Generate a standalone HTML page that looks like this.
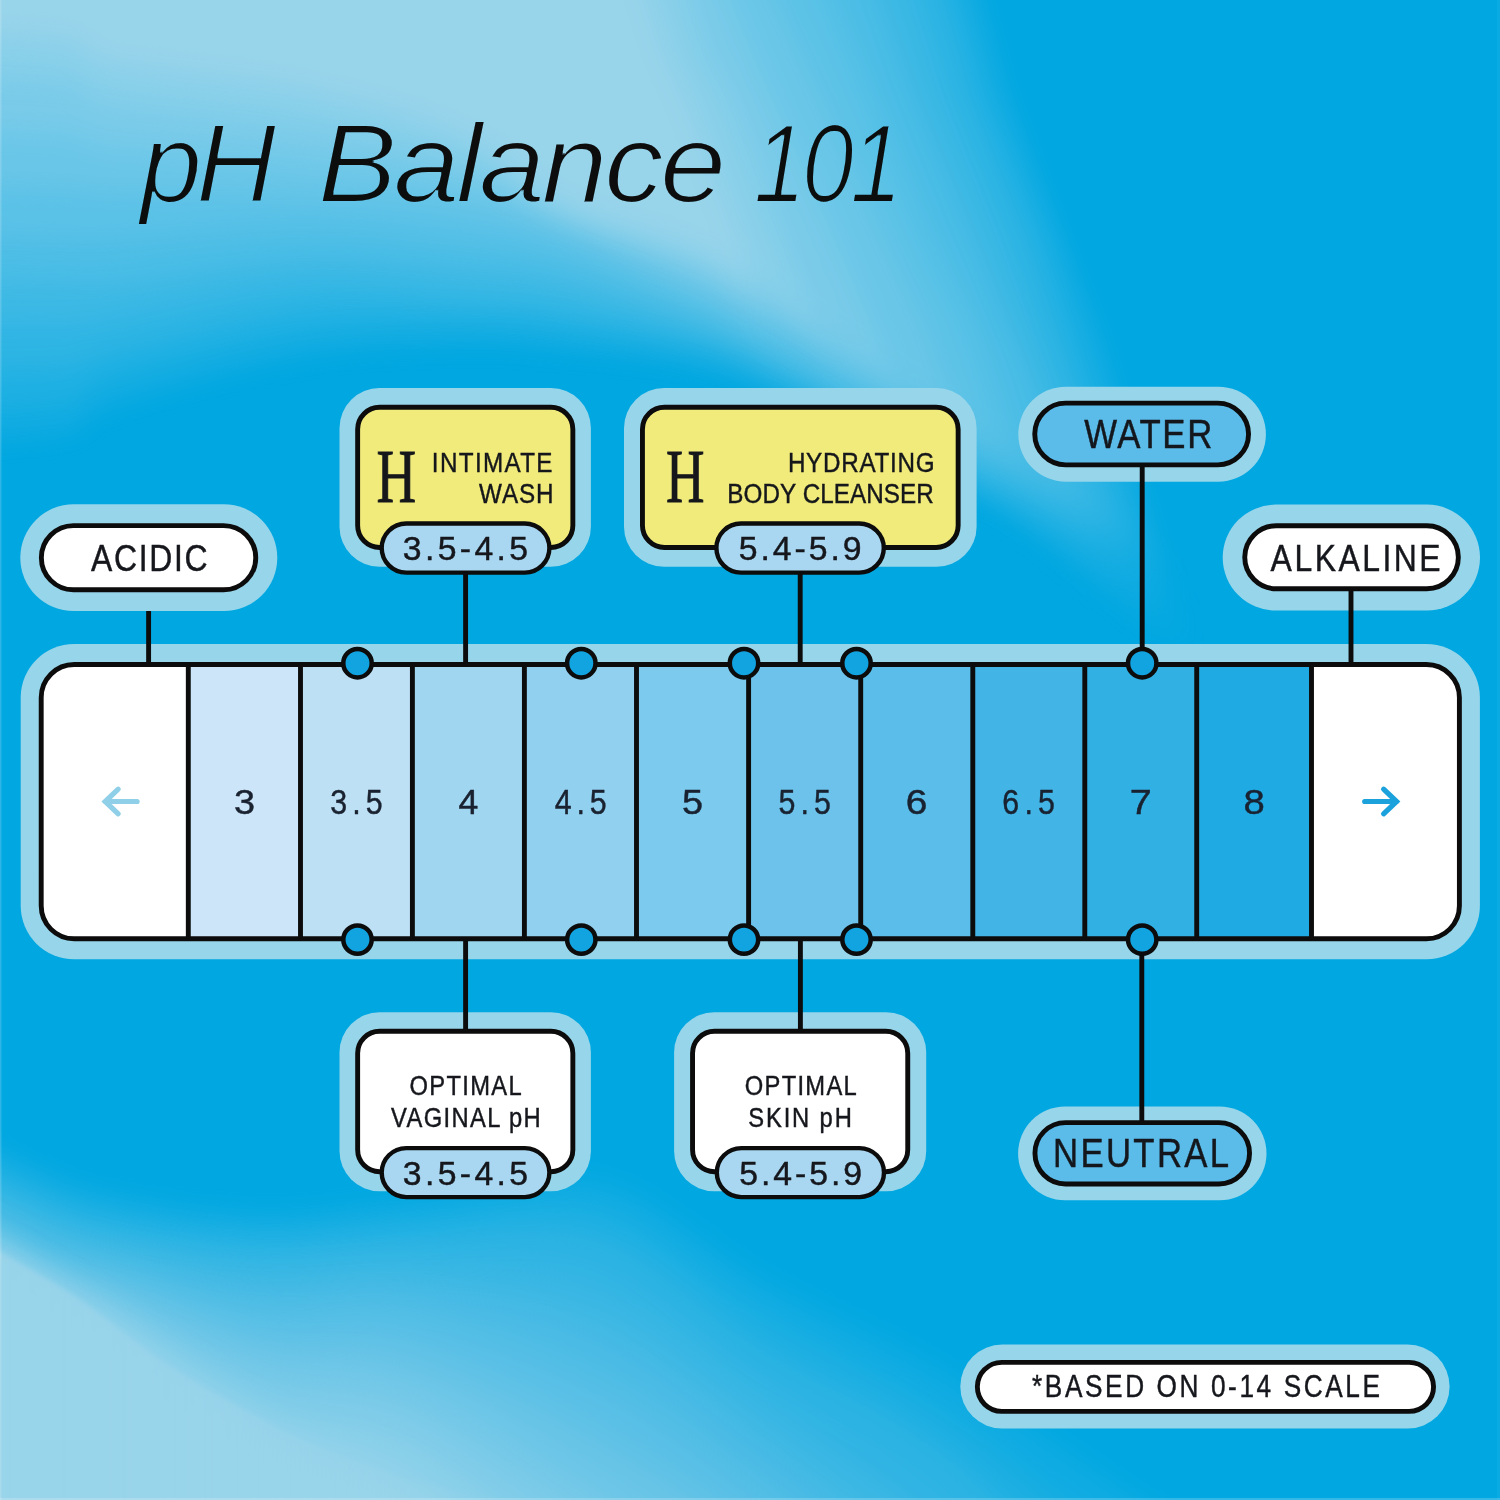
<!DOCTYPE html>
<html lang="en"><head><meta charset="utf-8"><title>pH Balance 101</title>
<style>html,body{margin:0;padding:0;background:#00a7e1}body{width:1500px;height:1500px;overflow:hidden}svg{display:block}</style>
</head><body>
<svg width="1500" height="1500" viewBox="0 0 1500 1500">
<defs><filter id="thin" x="-5%" y="-20%" width="110%" height="140%"><feMorphology operator="erode" radius="1.4"/><feGaussianBlur stdDeviation="0.45"/></filter></defs>
<rect width="1500" height="1500" fill="#00a7e1"/>
<defs>
<filter id="fT" filterUnits="userSpaceOnUse" x="-300" y="-300" width="2100" height="2100"><feGaussianBlur stdDeviation="13"/></filter><filter id="fL" filterUnits="userSpaceOnUse" x="-300" y="-300" width="2100" height="2100"><feGaussianBlur stdDeviation="16"/></filter><filter id="fB2" filterUnits="userSpaceOnUse" x="-300" y="-300" width="2100" height="2100"><feGaussianBlur stdDeviation="2"/></filter>
<linearGradient id="gE2" gradientUnits="userSpaceOnUse" x1="0" y1="0" x2="520" y2="0"><stop offset="0" stop-color="#98d4ea" stop-opacity="0.95"/><stop offset="0.45" stop-color="#98d4ea" stop-opacity="0.8"/><stop offset="1" stop-color="#98d4ea" stop-opacity="0"/></linearGradient>
<clipPath id="cv"><rect width="1500" height="1500"/></clipPath>
<mask id="mF2" maskUnits="userSpaceOnUse" x="0" y="0" width="1500" height="700"><rect width="1500" height="700" fill="#000"/>
<path d="M-300 -150 L944.0 -150 C952.5 -118.3 983.6 -1.7 994.9 40 C1006.2 81.7 1000.3 66.7 1011.9 100 C1023.5 133.3 1050.2 203.3 1064.2 240 C1078.2 276.7 1088.0 298.0 1096.1 320 C1104.2 342.0 1105.4 345.3 1113.0 372 C1120.6 398.7 1128.3 433.7 1141.5 480 C1154.7 526.3 1183.7 621.7 1192.1 650 L-300 650 Z" fill="#fff" opacity="0.100" filter="url(#fT)"/>
<path d="M-300 -150 L922.5 -150 C931.5 -118.3 964.9 -1.7 976.8 40 C988.7 81.7 981.6 66.7 993.8 100 C1006.0 133.3 1036.2 203.3 1050.0 240 C1063.8 276.7 1069.5 298.0 1076.7 320 C1083.9 342.0 1085.2 345.3 1093.0 372 C1100.8 398.7 1109.7 433.7 1123.8 480 C1137.9 526.3 1168.5 621.7 1177.4 650 L-300 650 Z" fill="#fff" opacity="0.111" filter="url(#fT)"/>
<path d="M-300 -150 L897.5 -150 C907.3 -118.3 943.6 -1.7 956.2 40 C968.8 81.7 961.2 66.7 973.2 100 C985.2 133.3 1014.5 203.3 1028.0 240 C1041.5 276.7 1047.2 298.0 1054.5 320 C1061.8 342.0 1063.2 345.3 1071.6 372 C1080.0 398.7 1089.9 433.7 1104.8 480 C1119.7 526.3 1151.6 621.7 1160.9 650 L-300 650 Z" fill="#fff" opacity="0.125" filter="url(#fT)"/>
<path d="M-300 -150 L863.5 -150 C873.8 -118.3 911.6 -1.7 925.0 40 C938.4 81.7 931.2 66.7 943.7 100 C956.2 133.3 986.0 203.3 1000.3 240 C1014.6 276.7 1021.4 298.0 1029.5 320 C1037.6 342.0 1039.8 345.3 1048.9 372 C1058.0 398.7 1068.7 433.7 1084.3 480 C1099.9 526.3 1133.0 621.7 1142.7 650 L-300 650 Z" fill="#fff" opacity="0.143" filter="url(#fT)"/>
<path d="M-300 -150 L820.7 -150 C831.8 -118.3 872.7 -1.7 887.4 40 C902.1 81.7 895.8 66.7 909.1 100 C922.4 133.3 951.8 203.3 967.0 240 C982.2 276.7 991.0 298.0 1000.2 320 C1009.4 342.0 1012.3 345.3 1022.0 372 C1031.7 398.7 1041.7 433.7 1058.3 480 C1074.9 526.3 1111.1 621.7 1121.7 650 L-300 650 Z" fill="#fff" opacity="0.167" filter="url(#fT)"/>
<path d="M-300 -150 L766.3 -150 C779.5 -118.3 828.4 -1.7 845.6 40 C862.8 81.7 856.0 66.7 869.7 100 C883.4 133.3 911.4 203.3 927.6 240 C943.8 276.7 957.2 298.0 966.8 320 C976.4 342.0 976.5 345.3 985.3 372 C994.1 398.7 1001.3 433.7 1019.4 480 C1037.5 526.3 1081.5 621.7 1093.9 650 L-300 650 Z" fill="#fff" opacity="0.200" filter="url(#fT)"/>
<path d="M-300 -150 L708.0 -150 C722.4 -118.3 775.5 -1.7 794.5 40 C813.5 81.7 807.1 66.7 822.1 100 C837.1 133.3 867.8 203.3 884.5 240 C901.2 276.7 912.6 298.0 922.1 320 C931.6 342.0 931.2 345.3 941.3 372 C951.4 398.7 961.9 433.7 982.5 480 C1003.1 526.3 1051.2 621.7 1065.0 650 L-300 650 Z" fill="#fff" opacity="0.250" filter="url(#fT)"/>
<path d="M-300 -150 L667.7 -150 C680.5 -118.3 727.6 -1.7 744.7 40 C761.9 81.7 755.9 66.7 770.6 100 C785.3 133.3 816.9 203.3 833.0 240 C849.1 276.7 857.8 298.0 867.3 320 C876.8 342.0 876.6 345.3 890.0 372 C903.4 398.7 923.3 433.7 947.5 480 C971.7 526.3 1020.4 621.7 1035.0 650 L-300 650 Z" fill="#fff" opacity="0.333" filter="url(#fT)"/>
<path d="M-300 -150 L647.0 -150 C655.8 -118.3 686.3 -1.7 700.0 40 C713.7 81.7 715.7 66.7 729.4 100 C743.1 133.3 767.9 203.3 782.2 240 C796.5 276.7 804.4 298.0 815.0 320 C825.6 342.0 829.8 345.3 846.0 372 C862.2 398.7 886.0 433.7 912.5 480 C939.0 526.3 989.6 621.7 1005.0 650 L-300 650 Z" fill="#fff" opacity="0.500" filter="url(#fT)"/>
<path d="M-300 -150 L604.3 -150 C613.9 -118.3 648.1 -1.7 662.0 40 C675.9 81.7 674.9 66.7 687.8 100 C700.7 133.3 726.7 203.3 739.6 240 C752.5 276.7 754.6 298.0 765.0 320 C775.4 342.0 783.2 345.3 802.0 372 C820.8 398.7 848.7 433.7 877.5 480 C906.3 526.3 958.8 621.7 975.0 650 L-300 650 Z" fill="#fff" opacity="1.000" filter="url(#fT)"/>
</mask>
</defs>
<g clip-path="url(#cv)">
<g mask="url(#mF2)">
<path d="M-150 -300 L-150 450.6 C-115.0 448.4 16.7 444.4 60 437.6 C103.3 430.8 70.0 422.9 110 410.0 C150.0 397.1 241.3 370.5 300 360.0 C358.7 349.5 417.8 348.2 462 347.0 C506.2 345.8 525.3 348.7 565 352.6 C604.7 356.5 664.2 362.6 700 370.5 C735.8 378.4 753.3 387.8 780 400.0 C806.7 412.2 833.3 428.8 860 443.5 C886.7 458.2 913.3 474.0 940 488.0 C966.7 502.0 976.7 496.8 1020 527.5 C1063.3 558.2 1136.7 627.9 1200 672.0 C1263.3 716.1 1366.7 772.0 1400 792.0 L1400 -300 Z" fill="#98d4ea" opacity="0.100" filter="url(#fT)"/>
<path d="M-150 -300 L-150 411.7 C-115.0 410.6 16.7 409.9 60 404.8 C103.3 399.7 70.0 392.3 110 380.9 C150.0 369.5 241.3 345.1 300 336.5 C358.7 327.9 417.8 329.1 462 329.0 C506.2 328.9 525.3 331.2 565 335.9 C604.7 340.6 664.2 348.4 700 357.3 C735.8 366.2 753.3 376.3 780 389.0 C806.7 401.7 833.3 418.7 860 433.7 C886.7 448.7 913.3 464.7 940 479.0 C966.7 493.3 976.7 490.2 1020 519.7 C1063.3 549.2 1136.7 613.3 1200 656.0 C1263.3 698.7 1366.7 756.0 1400 776.0 L1400 -300 Z" fill="#98d4ea" opacity="0.111" filter="url(#fT)"/>
<path d="M-150 -300 L-150 369.1 C-115.0 368.8 16.7 369.8 60 367.0 C103.3 364.2 70.0 361.8 110 352.6 C150.0 343.5 241.3 319.0 300 312.1 C358.7 305.2 417.8 309.7 462 311.0 C506.2 312.3 525.3 314.2 565 320.0 C604.7 325.8 664.2 336.2 700 346.0 C735.8 355.8 753.3 365.8 780 379.0 C806.7 392.2 833.3 409.7 860 425.0 C886.7 440.3 913.3 456.3 940 471.0 C966.7 485.7 976.7 484.8 1020 513.0 C1063.3 541.2 1136.7 598.8 1200 640.0 C1263.3 681.2 1366.7 740.0 1400 760.0 L1400 -300 Z" fill="#98d4ea" opacity="0.125" filter="url(#fT)"/>
<path d="M-150 -300 L-150 323.2 C-115.0 323.4 16.7 325.3 60 324.5 C103.3 323.7 70.0 324.7 110 318.2 C150.0 311.7 241.3 289.8 300 285.6 C358.7 281.4 417.8 290.3 462 293.0 C506.2 295.7 525.3 295.1 565 302.0 C604.7 308.9 664.2 323.0 700 334.3 C735.8 345.6 753.3 355.9 780 369.6 C806.7 383.3 833.3 401.0 860 416.7 C886.7 432.4 913.3 448.9 940 463.8 C966.7 478.7 976.7 479.6 1020 506.3 C1063.3 533.0 1136.7 584.4 1200 624.0 C1263.3 663.6 1366.7 724.0 1400 744.0 L1400 -300 Z" fill="#98d4ea" opacity="0.143" filter="url(#fT)"/>
<path d="M-150 -300 L-150 277.3 C-115.0 277.9 16.7 280.2 60 280.8 C103.3 281.4 70.0 284.6 110 280.8 C150.0 277.0 241.3 260.3 300 258.0 C358.7 255.7 417.8 263.3 462 267.0 C506.2 270.7 525.3 270.8 565 280.0 C604.7 289.2 664.2 308.9 700 322.2 C735.8 335.5 753.3 345.4 780 359.7 C806.7 374.0 833.3 391.8 860 407.9 C886.7 424.0 913.3 440.9 940 456.1 C966.7 471.3 976.7 474.0 1020 499.3 C1063.3 524.6 1136.7 569.9 1200 608.0 C1263.3 646.1 1366.7 708.0 1400 728.0 L1400 -300 Z" fill="#98d4ea" opacity="0.167" filter="url(#fT)"/>
<path d="M-150 -300 L-150 235.0 C-115.0 235.8 16.7 239.2 60 240.0 C103.3 240.8 70.0 242.0 110 240.0 C150.0 238.0 241.3 228.0 300 228.0 C358.7 228.0 417.8 235.2 462 240.0 C506.2 244.8 525.3 245.6 565 257.0 C604.7 268.4 664.2 293.0 700 308.2 C735.8 323.4 753.3 333.3 780 348.2 C806.7 363.1 833.3 381.0 860 397.4 C886.7 413.8 913.3 431.0 940 446.6 C966.7 462.2 976.7 465.9 1020 490.8 C1063.3 515.7 1136.7 558.5 1200 596.0 C1263.3 633.5 1366.7 696.0 1400 716.0 L1400 -300 Z" fill="#98d4ea" opacity="0.200" filter="url(#fT)"/>
<path d="M-150 -300 L-150 180.0 C-115.0 181.2 16.7 185.0 60 187.0 C103.3 189.0 70.0 190.4 110 191.8 C150.0 193.2 241.3 192.4 300 195.3 C358.7 198.2 417.8 202.2 462 209.2 C506.2 216.1 525.3 222.9 565 237.0 C604.7 251.1 664.2 277.2 700 293.8 C735.8 310.4 753.3 320.9 780 336.4 C806.7 351.9 833.3 369.9 860 386.7 C886.7 403.4 913.3 421.0 940 436.9 C966.7 452.8 976.7 456.9 1020 482.1 C1063.3 507.3 1136.7 550.4 1200 588.0 C1263.3 625.6 1366.7 688.0 1400 708.0 L1400 -300 Z" fill="#98d4ea" opacity="0.250" filter="url(#fT)"/>
<path d="M-150 -300 L-150 125.0 C-115.0 126.3 16.7 129.4 60 133.0 C103.3 136.6 70.0 142.0 110 146.5 C150.0 151.0 241.3 153.8 300 160.0 C358.7 166.2 417.8 173.1 462 183.5 C506.2 193.9 525.3 206.4 565 222.2 C604.7 238.0 664.2 261.3 700 278.1 C735.8 294.9 753.3 307.0 780 323.2 C806.7 339.4 833.3 357.9 860 375.1 C886.7 392.3 913.3 410.1 940 426.4 C966.7 442.6 976.7 447.0 1020 472.6 C1063.3 498.2 1136.7 542.1 1200 580.0 C1263.3 617.9 1366.7 680.0 1400 700.0 L1400 -300 Z" fill="#98d4ea" opacity="0.333" filter="url(#fT)"/>
<path d="M-150 -300 L-150 70.0 C-115.0 71.7 16.7 74.7 60 80.0 C103.3 85.3 70.0 94.6 110 102.1 C150.0 109.5 241.3 115.0 300 124.7 C358.7 134.3 417.8 145.3 462 160.0 C506.2 174.7 525.3 195.6 565 212.8 C604.7 230.0 664.2 246.7 700 263.0 C735.8 279.3 753.3 293.9 780 310.7 C806.7 327.5 833.3 346.4 860 364.0 C886.7 381.6 913.3 399.7 940 416.3 C966.7 432.9 976.7 437.8 1020 463.7 C1063.3 489.6 1136.7 534.0 1200 572.0 C1263.3 610.0 1366.7 672.0 1400 692.0 L1400 -300 Z" fill="#98d4ea" opacity="0.500" filter="url(#fT)"/>
<path d="M-150 -300 L-150 29.0 C-115.0 30.7 16.7 33.4 60 39.0 C103.3 44.6 70.0 54.2 110 62.5 C150.0 70.8 241.3 76.4 300 88.5 C358.7 100.6 417.8 116.0 462 135.0 C506.2 154.0 525.3 183.4 565 202.5 C604.7 221.6 664.2 233.5 700 249.7 C735.8 265.9 753.3 282.2 780 299.6 C806.7 317.0 833.3 336.0 860 354.0 C886.7 372.0 913.3 390.4 940 407.4 C966.7 424.4 976.7 429.8 1020 455.9 C1063.3 482.0 1136.7 526.0 1200 564.0 C1263.3 602.0 1366.7 664.0 1400 684.0 L1400 -300 Z" fill="#98d4ea" opacity="1.000" filter="url(#fT)"/>
</g>
<path d="M-150 2400 L-150 1075.0 C-120.8 1089.7 -18.3 1143.2 25 1163.0 C68.3 1182.8 70.8 1185.6 110 1194.0 C149.2 1202.4 210.0 1212.4 260 1213.4 C310.0 1214.4 353.3 1205.6 410 1200.0 C466.7 1194.4 541.7 1166.8 600 1179.6 C658.3 1192.4 701.7 1244.4 760 1276.7 C818.3 1309.0 885.0 1335.2 950 1373.3 C1015.0 1411.3 1083.3 1464.7 1150 1505.0 C1216.7 1545.3 1316.7 1596.7 1350 1615.0 L1350 2400 Z" fill="#98d4ea" opacity="0.100" filter="url(#fL)"/>
<path d="M-150 2400 L-150 1087.5 C-120.8 1102.2 -18.3 1155.9 25 1176.0 C68.3 1196.1 70.8 1199.3 110 1208.0 C149.2 1216.7 210.0 1226.5 260 1228.2 C310.0 1229.9 353.3 1221.5 410 1218.3 C466.7 1215.1 541.7 1193.7 600 1209.2 C658.3 1224.7 701.7 1276.4 760 1311.5 C818.3 1346.6 885.0 1375.2 950 1420.0 C1015.0 1464.8 1083.3 1535.7 1150 1580.0 C1216.7 1624.3 1316.7 1668.4 1350 1686.1 L1350 2400 Z" fill="#98d4ea" opacity="0.111" filter="url(#fL)"/>
<path d="M-150 2400 L-150 1102.5 C-120.8 1117.4 -18.3 1172.1 25 1192.0 C68.3 1211.9 70.8 1213.5 110 1222.0 C149.2 1230.5 210.0 1240.8 260 1243.0 C310.0 1245.2 353.3 1235.5 410 1235.0 C466.7 1234.5 541.7 1220.8 600 1240.0 C658.3 1259.2 701.7 1313.3 760 1350.0 C818.3 1386.7 885.0 1408.3 950 1460.0 C1015.0 1511.7 1083.3 1610.3 1150 1660.0 C1216.7 1709.7 1316.7 1741.9 1350 1758.3 L1350 2400 Z" fill="#98d4ea" opacity="0.125" filter="url(#fL)"/>
<path d="M-150 2400 L-150 1117.5 C-120.8 1132.6 -18.3 1187.8 25 1208.0 C68.3 1228.2 70.8 1228.8 110 1238.4 C149.2 1248.0 210.0 1262.0 260 1265.8 C310.0 1269.6 353.3 1257.3 410 1261.0 C466.7 1264.7 541.7 1265.4 600 1288.0 C658.3 1310.6 701.7 1355.5 760 1396.7 C818.3 1437.9 885.0 1478.5 950 1535.0 C1015.0 1591.5 1083.3 1686.4 1150 1735.7 C1216.7 1785.0 1316.7 1814.8 1350 1830.6 L1350 2400 Z" fill="#98d4ea" opacity="0.143" filter="url(#fL)"/>
<path d="M-150 2400 L-150 1132.5 C-120.8 1147.8 -18.3 1203.6 25 1224.0 C68.3 1244.4 70.8 1244.0 110 1254.8 C149.2 1265.6 210.0 1283.2 260 1288.6 C310.0 1294.0 353.3 1279.1 410 1287.0 C466.7 1294.9 541.7 1309.6 600 1336.0 C658.3 1362.4 701.7 1400.5 760 1445.3 C818.3 1490.1 885.0 1544.7 950 1605.0 C1015.0 1665.3 1083.3 1757.5 1150 1807.1 C1216.7 1856.7 1316.7 1886.8 1350 1902.8 L1350 2400 Z" fill="#98d4ea" opacity="0.167" filter="url(#fL)"/>
<path d="M-150 2400 L-150 1147.5 C-120.8 1162.9 -18.3 1219.6 25 1240.0 C68.3 1260.4 70.8 1257.6 110 1269.8 C149.2 1282.0 210.0 1305.0 260 1313.0 C310.0 1321.0 353.3 1305.6 410 1318.0 C466.7 1330.4 541.7 1357.6 600 1387.3 C658.3 1417.0 701.7 1447.9 760 1496.0 C818.3 1544.1 885.0 1612.2 950 1676.0 C1015.0 1739.8 1083.3 1828.8 1150 1878.6 C1216.7 1928.4 1316.7 1958.9 1350 1975.0 L1350 2400 Z" fill="#98d4ea" opacity="0.200" filter="url(#fL)"/>
<path d="M-150 2400 L-150 1156.9 C-120.8 1173.9 -18.3 1238.0 25 1259.1 C68.3 1280.1 70.8 1269.9 110 1283.2 C149.2 1296.5 210.0 1327.2 260 1339.0 C310.0 1350.8 353.3 1336.9 410 1354.0 C466.7 1371.1 541.7 1408.8 600 1441.8 C658.3 1474.8 701.7 1501.0 760 1552.0 C818.3 1603.0 885.0 1681.7 950 1748.0 C1015.0 1814.3 1083.3 1900.1 1150 1950.0 C1216.7 1999.9 1316.7 2031.0 1350 2047.2 L1350 2400 Z" fill="#98d4ea" opacity="0.250" filter="url(#fL)"/>
<path d="M-150 2400 L-150 1160.6 C-120.8 1177.6 -18.3 1239.4 25 1262.8 C68.3 1286.2 70.8 1284.0 110 1301.0 C149.2 1318.0 210.0 1350.2 260 1365.0 C310.0 1379.8 353.3 1367.7 410 1390.0 C466.7 1412.3 541.7 1462.4 600 1498.8 C658.3 1535.2 701.7 1554.8 760 1608.3 C818.3 1661.8 885.0 1751.2 950 1820.0 C1015.0 1888.8 1083.3 1971.5 1150 2021.4 C1216.7 2071.3 1316.7 2103.1 1350 2119.4 L1350 2400 Z" fill="#98d4ea" opacity="0.333" filter="url(#fL)"/>
<path d="M-150 2400 L-150 1164.4 C-120.8 1181.4 -18.3 1241.2 25 1266.5 C68.3 1291.8 70.8 1293.9 110 1316.0 C149.2 1338.1 210.0 1379.7 260 1399.0 C310.0 1418.3 353.3 1404.9 410 1431.7 C466.7 1458.5 541.7 1521.1 600 1560.0 C658.3 1598.9 701.7 1609.7 760 1665.0 C818.3 1720.3 885.0 1820.7 950 1892.0 C1015.0 1963.3 1083.3 2043.0 1150 2092.9 C1216.7 2142.8 1316.7 2175.2 1350 2191.7 L1350 2400 Z" fill="#98d4ea" opacity="0.500" filter="url(#fL)"/>
<path d="M-150 2400 L-150 1168.1 C-120.8 1185.1 -18.3 1244.2 25 1270.2 C68.3 1296.2 70.8 1298.7 110 1324.0 C149.2 1349.3 210.0 1396.0 260 1422.0 C310.0 1448.0 353.3 1447.0 410 1480.0 C466.7 1513.0 541.7 1579.7 600 1620.0 C658.3 1660.3 701.7 1664.4 760 1721.7 C818.3 1779.0 885.0 1890.2 950 1964.0 C1015.0 2037.8 1083.3 2114.3 1150 2164.3 C1216.7 2214.3 1316.7 2247.3 1350 2263.9 L1350 2400 Z" fill="#98d4ea" opacity="1.000" filter="url(#fL)"/>
<path d="M-150 1700 L-150 1165 C-125.0 1179.5 -38.3 1229.5 0 1252 C38.3 1274.5 53.3 1282.0 80 1300 C106.7 1318.0 133.3 1342.0 160 1360 C186.7 1378.0 213.3 1393.3 240 1408 C266.7 1422.7 293.3 1436.7 320 1448 C346.7 1459.3 373.3 1468.0 400 1476 C426.7 1484.0 453.3 1490.0 480 1496 C506.7 1502.0 523.3 1506.3 560 1512 C596.7 1517.7 676.7 1527.0 700 1530 L700 1700 Z" fill="url(#gE2)" filter="url(#fB2)"/>
<rect x="0" y="1498" width="1500" height="2" fill="#ffffff" opacity="0.2"/>
<rect x="0" y="0" width="1.5" height="1500" fill="#ffffff" opacity="0.18"/>
<rect x="1497" y="0" width="3" height="1500" fill="#ffffff" opacity="0.04"/>
</g>

<rect x="20.70" y="644.00" width="1459.20" height="315.30" rx="53.50" ry="53.50" fill="#97d5ea" />
<line x1="148.6" y1="600" x2="148.6" y2="664" stroke="#0c0c0c" stroke-width="4.9"/>
<rect x="20.30" y="504.30" width="257.00" height="106.80" rx="53.40" ry="53.40" fill="#97d5ea" />
<rect x="1222.70" y="504.60" width="257.30" height="106.00" rx="53.00" ry="53.00" fill="#97d5ea" />
<rect x="1018.30" y="386.70" width="247.60" height="95.00" rx="47.50" ry="47.50" fill="#97d5ea" />
<rect x="1018.10" y="1106.50" width="248.40" height="93.80" rx="46.90" ry="46.90" fill="#97d5ea" />
<rect x="960.30" y="1344.50" width="489.30" height="84.10" rx="42.05" ry="42.05" fill="#97d5ea" />
<rect x="339.50" y="388.00" width="251.40" height="178.70" rx="40.00" ry="40.00" fill="#97d5ea" />
<rect x="624.00" y="388.00" width="352.60" height="178.70" rx="40.00" ry="40.00" fill="#97d5ea" />
<rect x="339.50" y="1012.30" width="251.40" height="178.90" rx="40.00" ry="40.00" fill="#97d5ea" />
<rect x="674.10" y="1012.30" width="252.10" height="178.90" rx="40.00" ry="40.00" fill="#97d5ea" />
<line x1="465.6" y1="570" x2="465.6" y2="664" stroke="#0c0c0c" stroke-width="4.9"/>
<line x1="800.2" y1="570" x2="800.2" y2="664" stroke="#0c0c0c" stroke-width="4.9"/>
<line x1="1142.2" y1="465" x2="1142.2" y2="650" stroke="#0c0c0c" stroke-width="4.9"/>
<line x1="1351" y1="588" x2="1351" y2="664" stroke="#0c0c0c" stroke-width="4.9"/>
<line x1="465.6" y1="939" x2="465.6" y2="1031" stroke="#0c0c0c" stroke-width="4.9"/>
<line x1="800.4" y1="939" x2="800.4" y2="1031" stroke="#0c0c0c" stroke-width="4.9"/>
<line x1="1141.8" y1="955" x2="1141.8" y2="1123" stroke="#0c0c0c" stroke-width="4.9"/>
<rect x="41.20" y="664.50" width="1418.20" height="274.30" rx="33.00" ry="33.00" fill="#ffffff" />
<rect x="188.30" y="664.5" width="112.20" height="274.30" fill="#cce5f8"/>
<rect x="300.50" y="664.5" width="111.90" height="274.30" fill="#bde0f5"/>
<rect x="412.40" y="664.5" width="112.00" height="274.30" fill="#a1d6f1"/>
<rect x="524.40" y="664.5" width="112.10" height="274.30" fill="#92d0ef"/>
<rect x="636.50" y="664.5" width="112.10" height="274.30" fill="#7ccaee"/>
<rect x="748.60" y="664.5" width="112.10" height="274.30" fill="#6cc2ea"/>
<rect x="860.70" y="664.5" width="112.10" height="274.30" fill="#5bbde9"/>
<rect x="972.80" y="664.5" width="112.00" height="274.30" fill="#42b5e6"/>
<rect x="1084.80" y="664.5" width="111.90" height="274.30" fill="#31b0e4"/>
<rect x="1196.70" y="664.5" width="114.80" height="274.30" fill="#1faae3"/>
<line x1="188.3" y1="664.5" x2="188.3" y2="938.8" stroke="#0c0c0c" stroke-width="4.9"/>
<line x1="300.5" y1="664.5" x2="300.5" y2="938.8" stroke="#0c0c0c" stroke-width="4.9"/>
<line x1="412.4" y1="664.5" x2="412.4" y2="938.8" stroke="#0c0c0c" stroke-width="4.9"/>
<line x1="524.4" y1="664.5" x2="524.4" y2="938.8" stroke="#0c0c0c" stroke-width="4.9"/>
<line x1="636.5" y1="664.5" x2="636.5" y2="938.8" stroke="#0c0c0c" stroke-width="4.9"/>
<line x1="748.6" y1="664.5" x2="748.6" y2="938.8" stroke="#0c0c0c" stroke-width="4.9"/>
<line x1="860.7" y1="664.5" x2="860.7" y2="938.8" stroke="#0c0c0c" stroke-width="4.9"/>
<line x1="972.8" y1="664.5" x2="972.8" y2="938.8" stroke="#0c0c0c" stroke-width="4.9"/>
<line x1="1084.8" y1="664.5" x2="1084.8" y2="938.8" stroke="#0c0c0c" stroke-width="4.9"/>
<line x1="1196.7" y1="664.5" x2="1196.7" y2="938.8" stroke="#0c0c0c" stroke-width="4.9"/>
<line x1="1311.5" y1="664.5" x2="1311.5" y2="938.8" stroke="#0c0c0c" stroke-width="4.9"/>
<rect x="41.20" y="664.50" width="1418.20" height="274.30" rx="33.00" ry="33.00" fill="none" stroke="#0c0c0c" stroke-width="4.9" />
<circle cx="357.5" cy="663.2" r="14.2" fill="#12a3e1" stroke="#0c0c0c" stroke-width="4.5"/>
<circle cx="357.5" cy="939.6" r="14.2" fill="#12a3e1" stroke="#0c0c0c" stroke-width="4.5"/>
<circle cx="581.3" cy="663.2" r="14.2" fill="#12a3e1" stroke="#0c0c0c" stroke-width="4.5"/>
<circle cx="581.3" cy="939.6" r="14.2" fill="#12a3e1" stroke="#0c0c0c" stroke-width="4.5"/>
<circle cx="744.0" cy="663.2" r="14.2" fill="#12a3e1" stroke="#0c0c0c" stroke-width="4.5"/>
<circle cx="744.0" cy="939.6" r="14.2" fill="#12a3e1" stroke="#0c0c0c" stroke-width="4.5"/>
<circle cx="856.5" cy="663.2" r="14.2" fill="#12a3e1" stroke="#0c0c0c" stroke-width="4.5"/>
<circle cx="856.5" cy="939.6" r="14.2" fill="#12a3e1" stroke="#0c0c0c" stroke-width="4.5"/>
<circle cx="1142.2" cy="663.2" r="14.2" fill="#12a3e1" stroke="#0c0c0c" stroke-width="4.5"/>
<circle cx="1142.2" cy="939.6" r="14.2" fill="#12a3e1" stroke="#0c0c0c" stroke-width="4.5"/>
<path d="M137.1 801.5H105.2M118.2 789.2L105.2 801.5L118.2 813.8" fill="none" stroke="#8fd0e8" stroke-width="5.2" stroke-linecap="round" stroke-linejoin="miter" stroke-miterlimit="6"/>
<path d="M1364.7 801.5H1396.6M1383.6 789.2L1396.6 801.5L1383.6 813.8" fill="none" stroke="#1ba1dc" stroke-width="5.2" stroke-linecap="round" stroke-linejoin="miter" stroke-miterlimit="6"/>
<rect x="41.35" y="525.65" width="214.40" height="64.10" rx="32.05" ry="32.05" fill="#ffffff" stroke="#0c0c0c" stroke-width="4.9" />
<rect x="1244.75" y="525.75" width="213.60" height="63.00" rx="31.50" ry="31.50" fill="#ffffff" stroke="#0c0c0c" stroke-width="4.9" />
<rect x="1034.75" y="403.15" width="213.80" height="61.70" rx="30.85" ry="30.85" fill="#5bbbe9" stroke="#0c0c0c" stroke-width="4.9" />
<rect x="1034.95" y="1122.65" width="214.60" height="61.30" rx="30.65" ry="30.65" fill="#5bbbe9" stroke="#0c0c0c" stroke-width="4.9" />
<rect x="977.35" y="1362.35" width="456.20" height="49.00" rx="24.50" ry="24.50" fill="#ffffff" stroke="#0c0c0c" stroke-width="4.9" />
<rect x="357.65" y="407.25" width="215.20" height="140.30" rx="22.00" ry="22.00" fill="#f1eb7b" stroke="#0c0c0c" stroke-width="4.9" />
<rect x="642.45" y="407.25" width="315.70" height="140.30" rx="22.00" ry="22.00" fill="#f1eb7b" stroke="#0c0c0c" stroke-width="4.9" />
<rect x="357.65" y="1031.25" width="215.20" height="140.50" rx="22.00" ry="22.00" fill="#ffffff" stroke="#0c0c0c" stroke-width="4.9" />
<rect x="692.55" y="1031.25" width="215.20" height="140.50" rx="22.00" ry="22.00" fill="#ffffff" stroke="#0c0c0c" stroke-width="4.9" />
<rect x="381.70" y="523.50" width="167.70" height="49.10" rx="24.55" ry="24.55" fill="#a9d7f1" stroke="#0c0c0c" stroke-width="4.4" />
<rect x="716.40" y="523.50" width="167.40" height="49.10" rx="24.55" ry="24.55" fill="#a9d7f1" stroke="#0c0c0c" stroke-width="4.4" />
<rect x="381.70" y="1148.10" width="167.70" height="49.00" rx="24.50" ry="24.50" fill="#a9d7f1" stroke="#0c0c0c" stroke-width="4.4" />
<rect x="716.80" y="1148.10" width="167.20" height="49.00" rx="24.50" ry="24.50" fill="#a9d7f1" stroke="#0c0c0c" stroke-width="4.4" />
<g opacity="0.999">
<text y="201.5" font-family='"Liberation Sans", sans-serif' font-style="italic" font-size="110.98" fill="#0a0a0a" filter="url(#thin)"><tspan x="140.17" letter-spacing="-5.95" textLength="129.97" lengthAdjust="spacingAndGlyphs">pH</tspan> <tspan x="317.84" letter-spacing="-3.25" textLength="404.80" lengthAdjust="spacingAndGlyphs">Balance</tspan> <tspan x="753.87" letter-spacing="-4.36" textLength="144.55" lengthAdjust="spacingAndGlyphs">101</tspan></text>
<text transform="translate(91.12,571.00) scale(0.8500,1)" font-family='"Liberation Sans", sans-serif' font-size="37.53" letter-spacing="1.96" fill="#15171c"  stroke="#15171c" stroke-width="0.45">ACIDIC</text>
<text transform="translate(1270.62,571.00) scale(0.8500,1)" font-family='"Liberation Sans", sans-serif' font-size="37.53" letter-spacing="2.95" fill="#15171c"  stroke="#15171c" stroke-width="0.45">ALKALINE</text>
<text transform="translate(1084.13,448.30) scale(0.8500,1)" font-family='"Liberation Sans", sans-serif' font-size="40.87" letter-spacing="1.95" fill="#15171c"  stroke="#15171c" stroke-width="0.45">WATER</text>
<text transform="translate(1053.03,1167.00) scale(0.8500,1)" font-family='"Liberation Sans", sans-serif' font-size="40.87" letter-spacing="2.75" fill="#15171c"  stroke="#15171c" stroke-width="0.45">NEUTRAL</text>
<text transform="translate(1032.04,1397.40) scale(0.8500,1)" font-family='"Liberation Sans", sans-serif' font-size="30.84" letter-spacing="3.06" fill="#15171c"  stroke="#15171c" stroke-width="0.45">*BASED ON 0-14 SCALE</text>
<text transform="translate(431.86,471.60) scale(0.8500,1)" font-family='"Liberation Sans", sans-serif' font-size="28.51" letter-spacing="1.58" fill="#15171c"  stroke="#15171c" stroke-width="0.45">INTIMATE</text>
<text transform="translate(479.08,503.20) scale(0.8500,1)" font-family='"Liberation Sans", sans-serif' font-size="28.51" letter-spacing="1.03" fill="#15171c"  stroke="#15171c" stroke-width="0.45">WASH</text>
<text transform="translate(787.90,471.60) scale(0.8500,1)" font-family='"Liberation Sans", sans-serif' font-size="28.51" letter-spacing="0.85" fill="#15171c"  stroke="#15171c" stroke-width="0.45">HYDRATING</text>
<text transform="translate(727.30,503.20) scale(0.8500,1)" font-family='"Liberation Sans", sans-serif' font-size="28.51" letter-spacing="0.10" fill="#15171c"  stroke="#15171c" stroke-width="0.45">BODY CLEANSER</text>
<text transform="translate(376.49,502.20) scale(0.7248,1)" font-family='"Liberation Serif", serif' font-size="75.73" letter-spacing="0.00" fill="#15171c" stroke="#15171c" stroke-width="0.9" stroke-linejoin="miter">H</text>
<text transform="translate(665.93,502.20) scale(0.7050,1)" font-family='"Liberation Serif", serif' font-size="75.73" letter-spacing="0.00" fill="#15171c" stroke="#15171c" stroke-width="0.9" stroke-linejoin="miter">H</text>
<text transform="translate(402.73,560.00) scale(1.0000,1)" font-family='"Liberation Sans", sans-serif' font-size="33.75" letter-spacing="3.38" fill="#15171c"  stroke="#15171c" stroke-width="0.45">3.5-4.5</text>
<text transform="translate(738.65,560.00) scale(1.0000,1)" font-family='"Liberation Sans", sans-serif' font-size="33.75" letter-spacing="2.97" fill="#15171c"  stroke="#15171c" stroke-width="0.45">5.4-5.9</text>
<text transform="translate(402.73,1184.60) scale(1.0000,1)" font-family='"Liberation Sans", sans-serif' font-size="33.75" letter-spacing="3.38" fill="#15171c"  stroke="#15171c" stroke-width="0.45">3.5-4.5</text>
<text transform="translate(739.15,1184.60) scale(1.0000,1)" font-family='"Liberation Sans", sans-serif' font-size="33.75" letter-spacing="2.97" fill="#15171c"  stroke="#15171c" stroke-width="0.45">5.4-5.9</text>
<text transform="translate(409.57,1095.40) scale(0.8500,1)" font-family='"Liberation Sans", sans-serif' font-size="27.93" letter-spacing="1.54" fill="#15171c"  stroke="#15171c" stroke-width="0.45">OPTIMAL</text>
<text transform="translate(391.08,1127.40) scale(0.8500,1)" font-family='"Liberation Sans", sans-serif' font-size="27.93" letter-spacing="1.62" fill="#15171c"  stroke="#15171c" stroke-width="0.45">VAGINAL pH</text>
<text transform="translate(744.77,1095.40) scale(0.8500,1)" font-family='"Liberation Sans", sans-serif' font-size="27.93" letter-spacing="1.54" fill="#15171c"  stroke="#15171c" stroke-width="0.45">OPTIMAL</text>
<text transform="translate(748.23,1127.40) scale(0.8500,1)" font-family='"Liberation Sans", sans-serif' font-size="27.93" letter-spacing="2.21" fill="#15171c"  stroke="#15171c" stroke-width="0.45">SKIN pH</text>
<text transform="translate(233.98,813.80) scale(1.0591,1)" font-family='"Liberation Sans", sans-serif' font-size="35.78" letter-spacing="0.00" fill="#1a2230"  stroke="#1a2230" stroke-width="0.45">3</text>
<text transform="translate(330.31,813.80) scale(0.8500,1)" font-family='"Liberation Sans", sans-serif' font-size="35.78" letter-spacing="5.93" fill="#1a2230"  stroke="#1a2230" stroke-width="0.45">3.5</text>
<text transform="translate(458.60,813.80) scale(0.9961,1)" font-family='"Liberation Sans", sans-serif' font-size="35.78" letter-spacing="0.00" fill="#1a2230"  stroke="#1a2230" stroke-width="0.45">4</text>
<text transform="translate(554.77,813.80) scale(0.8500,1)" font-family='"Liberation Sans", sans-serif' font-size="35.78" letter-spacing="5.66" fill="#1a2230"  stroke="#1a2230" stroke-width="0.45">4.5</text>
<text transform="translate(682.03,813.80) scale(1.0591,1)" font-family='"Liberation Sans", sans-serif' font-size="35.78" letter-spacing="0.00" fill="#1a2230"  stroke="#1a2230" stroke-width="0.45">5</text>
<text transform="translate(778.43,813.80) scale(0.8500,1)" font-family='"Liberation Sans", sans-serif' font-size="35.78" letter-spacing="5.97" fill="#1a2230"  stroke="#1a2230" stroke-width="0.45">5.5</text>
<text transform="translate(905.80,813.80) scale(1.0877,1)" font-family='"Liberation Sans", sans-serif' font-size="35.78" letter-spacing="0.00" fill="#1a2230"  stroke="#1a2230" stroke-width="0.45">6</text>
<text transform="translate(1002.28,813.80) scale(0.8500,1)" font-family='"Liberation Sans", sans-serif' font-size="35.78" letter-spacing="6.15" fill="#1a2230"  stroke="#1a2230" stroke-width="0.45">6.5</text>
<text transform="translate(1129.77,813.80) scale(1.1056,1)" font-family='"Liberation Sans", sans-serif' font-size="35.78" letter-spacing="0.00" fill="#1a2230"  stroke="#1a2230" stroke-width="0.45">7</text>
<text transform="translate(1243.47,813.80) scale(1.0703,1)" font-family='"Liberation Sans", sans-serif' font-size="35.78" letter-spacing="0.00" fill="#1a2230"  stroke="#1a2230" stroke-width="0.45">8</text>
</g>
</svg>
</body></html>
